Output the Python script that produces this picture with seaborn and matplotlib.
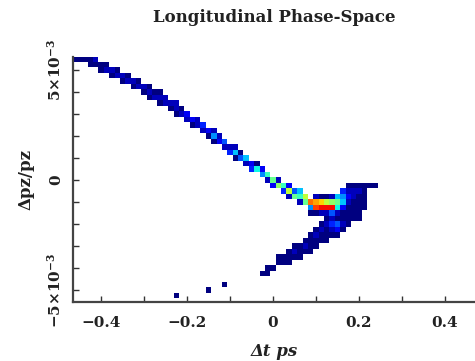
import numpy as np
import pandas as pd
import matplotlib
matplotlib.use('Agg')
import matplotlib.pyplot as plt
import seaborn as sns
from matplotlib.ticker import MultipleLocator

# --- Binned phase-space data ---
# each column: bin centre in t (ps), lowest occupied dp row (units 1e-3),
# and the counts of the stacked rows going upward (row height 0.25e-3)
upper_t = [-0.4625, -0.45, -0.4375, -0.425, -0.4125, -0.4, -0.3875, -0.375,
           -0.3625, -0.35, -0.3375, -0.325, -0.3125, -0.3, -0.2875, -0.275,
           -0.2625, -0.25, -0.2375, -0.225, -0.2125, -0.2, -0.1875, -0.175,
           -0.1625, -0.15, -0.1375, -0.125, -0.1125, -0.1, -0.0875, -0.075,
           -0.0625, -0.05, -0.0375, -0.025, -0.0125, 0.0, 0.0125, 0.025,
           0.0375, 0.05, 0.0625, 0.075, 0.0875]
upper_dp0 = [5.5, 5.5, 5.5, 5.25, 5.25, 5.0, 5.0, 4.75,
             4.75, 4.5, 4.5, 4.25, 4.25, 4.0, 3.75, 3.75,
             3.5, 3.5, 3.25, 3.0, 3.0, 2.75, 2.5, 2.5,
             2.25, 2.0, 1.75, 1.75, 1.5, 1.25, 1.0, 1.0,
             0.75, 0.5, 0.5, 0.25, 0.0, -0.25, -0.25, -0.5,
             -0.75, -0.75, -1.0, -1.0, -1.5]
upper_n = [(1,), (1,), (1,), (1, 1), (1, 2), (1, 1), (2, 1), (1, 2),
           (2, 1), (1, 2), (2, 1), (1, 2), (2, 1), (1, 2), (1, 2, 1), (2, 1),
           (1, 2, 1), (2, 2), (1, 2), (1, 2, 2), (2, 1), (2, 3), (1, 3), (2, 2),
           (2, 4), (1, 3), (1, 6, 2), (3, 2), (2, 5), (4, 2), (1, 7, 2), (5, 1),
           (2, 7), (4, 3), (8, 1), (6, 3), (2, 9), (3, 10), (11, 2), (4, 9),
           (2, 12, 3), (10, 5), (2, 9, 7), (10, 12), (1, 6, 16)]

core_t = [0.1, 0.1125, 0.125, 0.1375, 0.15, 0.1625, 0.175, 0.1875,
          0.2, 0.2125, 0.225, 0.2375]
core_dp0 = [-1.5, -1.5, -1.5, -1.75, -1.75, -1.75, -1.5, -1.5,
            -1.5, -1.25, -0.25, -0.25]
core_n = [(1, 17, 15, 2), (2, 18, 14, 1), (2, 18, 12, 1), (2, 5, 18, 11, 2),
          (1, 2, 8, 10, 7), (1, 1, 3, 7, 6, 4), (1, 1, 2, 3, 2, 1),
          (1, 1, 1, 2, 2, 1), (1, 1, 1, 1, 2, 1), (1, 1, 1, 1, 1), (1,), (1,)]

lower_t = [-0.025, -0.0125, 0.0, 0.0125, 0.025, 0.0375, 0.05, 0.0625,
           0.075, 0.0875, 0.1, 0.1125, 0.125, 0.1375, 0.15, 0.1625,
           0.175, 0.1875, 0.2]
lower_dp0 = [-4.25, -4.25, -4.0, -3.75, -3.75, -3.75, -3.5, -3.5,
             -3.25, -3.25, -3.0, -2.75, -2.75, -2.5, -2.5, -2.25,
             -2.0, -1.75, -1.75]
lower_n = [(1,), (1, 1), (1,), (1, 1), (1, 1), (1, 1, 1), (1, 2, 1), (1, 1, 1),
           (1, 2, 1), (1, 1, 1, 1), (1, 1, 2, 1), (1, 1, 2, 1), (1, 1, 1, 2, 1),
           (1, 2, 4), (1, 3, 5), (1, 2), (1, 1), (1,), (1,)]

stray_t = [-0.225, -0.15, -0.1125]
stray_dp0 = [-5.25, -5.0, -4.75]
stray_n = [(1,), (1,), (1,)]

ROW = 0.25  # row height in units of 1e-3


def expand(ts, dp0s, counts):
    rows = []
    for t, d0, ns in zip(ts, dp0s, counts):
        for i, n in enumerate(ns):
            rows.append((t, (d0 + i * ROW) * 1e-3, n))
    return rows


cells = (expand(upper_t, upper_dp0, upper_n) + expand(core_t, core_dp0, core_n)
         + expand(lower_t, lower_dp0, lower_n) + expand(stray_t, stray_dp0, stray_n))
df = pd.DataFrame(cells, columns=['dt', 'dpz', 'n'])

# histogram grid (bin centres on multiples of the bin width)
t_edges = (np.arange(-38, 21) + 0.5) * 0.0125
dp_edges = (np.arange(-23, 23) + 0.5) * ROW * 1e-3

# --- Plot ---
sns.set_style('ticks')
plt.rcParams['font.family'] = ['DejaVu Serif']
plt.rcParams['font.weight'] = 'bold'
plt.rcParams['mathtext.fontset'] = 'dejavuserif'

fig = plt.figure(figsize=(4.75, 3.61), dpi=100)
ax = fig.add_axes([0.154, 0.163, 0.846, 0.68])

sns.histplot(data=df, x='dt', y='dpz', weights='n', bins=(t_edges, dp_edges),
             cmap=matplotlib.colormaps['jet'], vmin=1, vmax=20, cbar=False, ax=ax)

ax.set_xlim(-0.465, 0.47)
ax.set_ylim(-5.55e-3, 5.6e-3)

ax.set_xticks([-0.4, -0.2, 0, 0.2, 0.4])
ax.set_xticklabels(['\u22120.4', '\u22120.2', '0', '0.2', '0.4'])
ax.xaxis.set_minor_locator(MultipleLocator(0.1))
ax.set_yticks([-5e-3, 0, 5e-3])
ax.set_yticklabels([r'$\mathbf{-5{\times}10^{-3}}$', '0', r'$\mathbf{5{\times}10^{-3}}$'],
                   rotation=90, va='center')
ax.yaxis.set_minor_locator(MultipleLocator(1e-3))
ax.tick_params(which='both', direction='in', length=4, width=1, colors='#333333',
               labelsize=11, labelcolor='#222222')
ax.tick_params(axis='x', pad=10)
ax.tick_params(axis='y', pad=7)

sns.despine(ax=ax)
for s in ['left', 'bottom']:
    ax.spines[s].set_color('#444444')
    ax.spines[s].set_linewidth(1.6)

ax.set_xlabel('\u0394t ps', fontsize=12, fontstyle='italic', fontweight='bold',
              labelpad=9, color='#222222')
ax.set_ylabel('\u0394pz/pz', fontsize=12, fontweight='bold', labelpad=8, color='#222222')
ax.set_title('Longitudinal Phase-Space', fontsize=12, fontweight='bold', pad=25,
             color='#222222')

plt.savefig('out.png', dpi=100)
